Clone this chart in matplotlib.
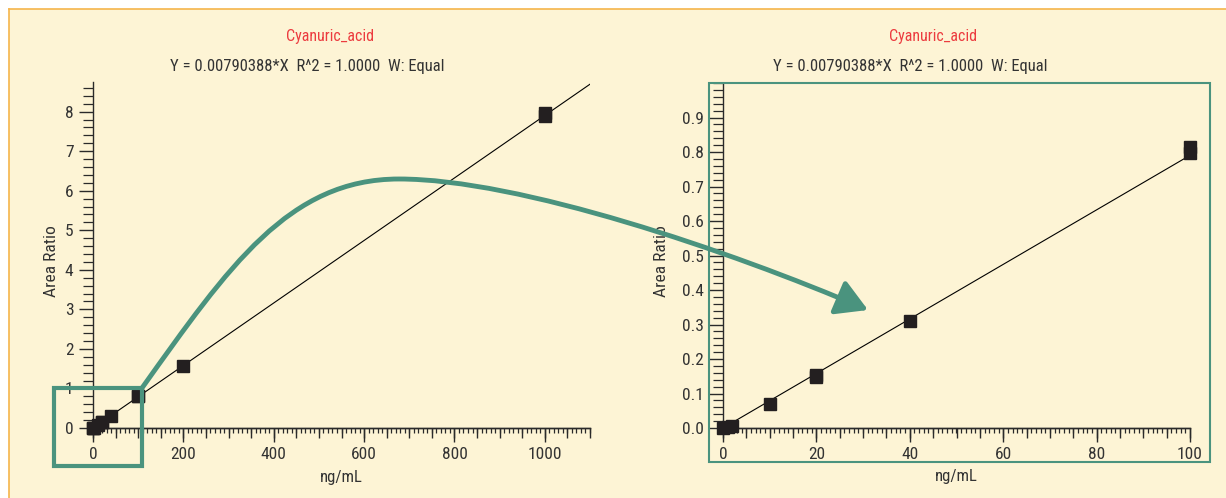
import numpy as np
import matplotlib
matplotlib.use("Agg")
import matplotlib.pyplot as plt
from matplotlib import font_manager
from matplotlib.patches import Rectangle, FancyArrowPatch, ArrowStyle
from matplotlib.path import Path
from matplotlib.lines import Line2D
from matplotlib.ticker import MultipleLocator, FixedLocator, NullLocator, FormatStrFormatter

# 1. Calibration data
conc = [0, 1, 2, 10, 20, 20, 40, 100, 100, 200, 1000, 1000]
area_ratio = [0.0, 0.004, 0.007, 0.069, 0.148, 0.154, 0.310, 0.798, 0.814, 1.56, 7.88, 7.96]
slope = 0.00790388

compound = "Cyanuric_acid"
fit_text = "Y = 0.00790388*X  R^2 = 1.0000  W: Equal"

# 2. Colours
BG = "#fdf4d5"
ORANGE = "#f5b54c"
GREEN = "#4a937e"
RED = "#ec3b3f"
TXT = "#333333"

# condensed font if one is around
names = {f.name for f in font_manager.fontManager.ttflist}
stretches = {(f.name, f.stretch) for f in font_manager.fontManager.ttflist}
FONT = ["DejaVu Sans"]
STRETCH = "normal"
for cand in ["Liberation Sans Narrow", "Roboto Condensed", "Open Sans Condensed",
             "DejaVu Sans Condensed"]:
    if cand in names:
        FONT = [cand, "DejaVu Sans"]
        break
else:
    for nm, st in stretches:
        if nm in ("Roboto", "Open Sans", "Noto Sans", "DejaVu Sans") and st in ("condensed", 75, "semi-condensed", 87.5):
            FONT = [nm, "DejaVu Sans"]
            STRETCH = "condensed"
            break

plt.rcParams["font.family"] = FONT
plt.rcParams["font.stretch"] = STRETCH
plt.rcParams["font.size"] = 12

W, H = 1226, 498


def px(x, y):
    # pixel position (top-left origin) -> figure fraction
    return x / W, 1 - y / H


fig = plt.figure(figsize=(W / 100, H / 100), dpi=100, facecolor=BG)

# white margin + orange frame lines
fig.patches.append(Rectangle((0, 1 - 9 / H), 1, 9 / H, transform=fig.transFigure,
                             facecolor="white", edgecolor="none", zorder=0))
fig.patches.append(Rectangle((0, 0), 9 / W, 1, transform=fig.transFigure,
                             facecolor="white", edgecolor="none", zorder=0))
fig.add_artist(Line2D([9 / W, 1], [1 - 9 / H, 1 - 9 / H], color=ORANGE, lw=1.2))
fig.add_artist(Line2D([9 / W, 9 / W], [0, 1 - 9 / H], color=ORANGE, lw=1.2))

ax1 = fig.add_axes([93 / W, 70 / H, 497 / W, 346 / H])
ax2 = fig.add_axes([723 / W, 70 / H, 467 / W, 345 / H])


def style_axis(ax, xmax, ymax, xmaj, xmed, xmin_, ymaj, ymin_, yfmt, ylab_x):
    ax.set_facecolor("none")
    ax.set_xlim(0, xmax)
    ax.set_ylim(0, ymax)
    for s in ["top", "right"]:
        ax.spines[s].set_visible(False)
    for s in ["left", "bottom"]:
        ax.spines[s].set_linewidth(1.0)
        ax.spines[s].set_color("#2a2a2a")
    ax.xaxis.set_major_locator(MultipleLocator(xmaj))
    ax.xaxis.set_minor_locator(MultipleLocator(xmin_))
    ax.yaxis.set_major_locator(MultipleLocator(ymaj))
    ax.yaxis.set_minor_locator(MultipleLocator(ymin_))
    ax.yaxis.set_major_formatter(FormatStrFormatter(yfmt))
    ax.tick_params(which="major", length=10, width=1.0, color="#2a2a2a",
                   labelcolor=TXT, labelsize=12.5, pad=4)
    ax.tick_params(which="minor", length=3.5, width=0.9, color="#2a2a2a")
    ax.tick_params(axis="y", which="minor", length=7)
    # medium ticks on the x axis
    sec = ax.secondary_xaxis("bottom")
    sec.xaxis.set_major_locator(MultipleLocator(xmed))
    sec.xaxis.set_minor_locator(NullLocator())
    sec.tick_params(length=7, width=1.0, color="#2a2a2a", labelbottom=False)
    sec.spines["bottom"].set_linewidth(1.0)
    sec.spines["bottom"].set_color("#2a2a2a")
    ax.set_xlabel("ng/mL", color=TXT, fontsize=12, va="center")
    ax.set_ylabel("Area Ratio", color=TXT, fontsize=12.5, va="center")
    ax.xaxis.set_label_coords(0.5, -0.142)
    ax.yaxis.set_label_coords(ylab_x, 0.483)


# 3. Left plot: full range
style_axis(ax1, 1100, 8.75, 200, 50, 10, 1, 0.2, "%d", -0.083)
ax1.yaxis.set_major_locator(FixedLocator(range(0, 9)))
xl = np.array([0, 1100])
ax1.plot(xl, slope * xl, color="black", lw=0.8, zorder=2)
ax1.plot(conc, area_ratio, "s", color="#231f20", ms=8.5, clip_on=False, zorder=3)

# 4. Right plot: low range (0-100)
style_axis(ax2, 100, 1.0, 20, 5, 1, 0.1, 0.02, "%.1f", -0.131)
ax2.yaxis.set_major_locator(FixedLocator(np.round(np.arange(0, 1.0, 0.1), 1)))
xr = np.array([0, 100])
ax2.plot(xr, slope * xr, color="black", lw=0.8, zorder=2)
low = [(c, a) for c, a in zip(conc, area_ratio) if c <= 100]
ax2.plot([c for c, a in low], [a for c, a in low], "s", color="#231f20", ms=8.5,
         clip_on=False, zorder=3)

# 5. Titles
for cx in (330, 933):
    fig.text(*px(cx, 36), compound, color=RED, fontsize=11.5, ha="center", va="center")
for cx in (307, 910):
    fig.text(*px(cx, 66), fit_text, color=TXT, fontsize=12, ha="center", va="center")

# 6. Zoom boxes and connecting arrow
x0, y0 = px(54, 466)
x1, y1 = px(142, 388)
fig.patches.append(Rectangle((x0, y0), x1 - x0, y1 - y0, transform=fig.transFigure,
                             fill=False, edgecolor=GREEN, lw=3, zorder=5))
x0, y0 = px(709, 462)
x1, y1 = px(1210, 83)
fig.patches.append(Rectangle((x0, y0), x1 - x0, y1 - y0, transform=fig.transFigure,
                             fill=False, edgecolor=GREEN, lw=1.5, zorder=5))

curve_px = [(142, 388), (229, 266), (289, 179), (399, 179),
            (519, 179), (730, 251), (868, 310)]
verts = [px(x, y) for x, y in curve_px]
codes = [Path.MOVETO] + [Path.CURVE4] * 6
arrow = FancyArrowPatch(path=Path(verts, codes), transform=fig.transFigure,
                        arrowstyle=ArrowStyle("-|>", head_length=19, head_width=11),
                        mutation_scale=1, color=GREEN, lw=3.5, zorder=6)
fig.add_artist(arrow)

fig.savefig("out.png", dpi=100, facecolor=BG)
